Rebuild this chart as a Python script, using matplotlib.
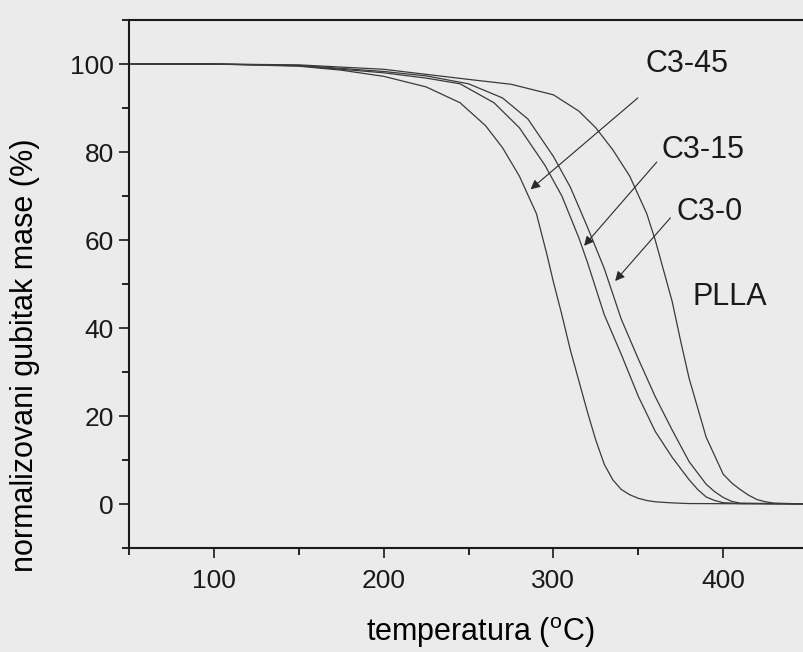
import matplotlib
matplotlib.use('Agg')
from matplotlib import pyplot as plt
from matplotlib.ticker import MultipleLocator

# TGA curves (temperature in C, normalized mass %)
t_c345 = [50, 100, 150, 175, 200, 225, 245, 260, 270, 280, 290, 296, 300, 305, 310, 315, 320, 325, 330, 335, 340, 345, 350, 355, 360, 370, 380, 450]
w_c345 = [100, 100, 99.5, 98.6, 97.2, 94.8, 91.2, 86, 81, 74.5, 66, 57, 50.5, 43, 35, 28, 21, 14.5, 9, 5.5, 3.3, 2.1, 1.3, 0.8, 0.5, 0.25, 0.1, 0]

t_c315 = [50, 100, 150, 200, 225, 245, 265, 280, 295, 305, 315, 320, 330, 340, 350, 360, 370, 380, 385, 390, 395, 400, 410, 450]
w_c315 = [100, 100, 99.6, 98, 96.8, 95.5, 91.2, 85.5, 77, 70, 60.5, 55, 43, 34, 24.5, 16.5, 10.6, 5.5, 3.3, 1.6, 0.8, 0.3, 0.1, 0]

t_c30 = [50, 100, 150, 200, 225, 250, 270, 285, 300, 310, 320, 330, 340, 350, 360, 370, 380, 390, 395, 400, 405, 410, 450]
w_c30 = [100, 100, 99.7, 98.3, 97.3, 95.5, 92.3, 87.5, 79, 72, 63, 53.5, 42, 33, 24.4, 16.8, 9.6, 4.5, 2.8, 1.5, 0.6, 0.2, 0]

t_plla = [50, 100, 150, 200, 250, 275, 300, 315, 325, 335, 345, 355, 360, 365, 370, 375, 380, 390, 400, 405, 410, 415, 420, 425, 430, 450]
w_plla = [100, 100, 99.8, 98.8, 96.5, 95.4, 93, 89.3, 85.5, 80.5, 74.5, 66, 60, 53, 46, 37, 28.5, 15.2, 6.8, 4.8, 3.3, 2, 1, 0.5, 0.2, 0]

series = [(t_c345, w_c345), (t_c315, w_c315), (t_c30, w_c30), (t_plla, w_plla)]

# label text, label centre, arrow start, arrow tip (None = no arrow)
labels = ['C3-45', 'C3-15', 'C3-0', 'PLLA']
label_pos = [(379, 100), (388, 80.5), (392, 66.4), (404, 47)]
arrow_from = [(351, 92.7), (362, 78.2), (370, 65.5), None]
arrow_to = [(285.3, 71.1), (317, 58.2), (335.3, 50.2), None]

plt.rcParams['font.family'] = ['Liberation Sans', 'DejaVu Sans']
plt.rcParams['mathtext.fontset'] = 'custom'
plt.rcParams['mathtext.rm'] = 'Liberation Sans'

bg = '#ebebeb'
fig = plt.figure(figsize=(8.04, 6.52), dpi=100, facecolor=bg)
ax = fig.add_axes([129/804, 1 - 548/652, (808 - 129)/804, (548 - 20)/652])
ax.set_facecolor(bg)

for t, w in series:
	ax.plot(t, w, color='#3a3a3a', lw=0.9)

for name, pos, a0, a1 in zip(labels, label_pos, arrow_from, arrow_to):
	ax.text(pos[0], pos[1], name, fontsize=22, ha='center', va='center', color='#1a1a1a')
	if a0 is not None:
		ax.annotate('', xy=a1, xytext=a0,
			arrowprops=dict(arrowstyle='-|>', color='#2a2a2a', lw=0.8, mutation_scale=14))

ax.set_xlim(50, 450)
ax.set_ylim(-10, 110)
ax.xaxis.set_major_locator(MultipleLocator(100))
ax.xaxis.set_minor_locator(MultipleLocator(50))
ax.yaxis.set_major_locator(MultipleLocator(20))
ax.yaxis.set_minor_locator(MultipleLocator(10))
ax.tick_params(which='major', direction='out', length=7, width=1.2, labelsize=19, colors='#1a1a1a', pad=4)
ax.tick_params(axis='x', which='major', pad=8)
ax.tick_params(which='minor', direction='out', length=5, width=1.2)
ax.tick_params(top=False, right=False)
for side in ['left', 'bottom', 'top']:
	ax.spines[side].set_linewidth(1.5)
	ax.spines[side].set_color('#1a1a1a')
ax.spines['right'].set_visible(False)

ax.set_xlabel('temperatura ($^{\\rm o}$C)', fontsize=22)
ax.set_ylabel('normalizovani gubitak mase (%)', fontsize=22)
ax.xaxis.set_label_coords(0.518, -0.128)
ax.yaxis.set_label_coords(-0.131, 0.365)

plt.savefig('out.png', dpi=100, facecolor=bg)
